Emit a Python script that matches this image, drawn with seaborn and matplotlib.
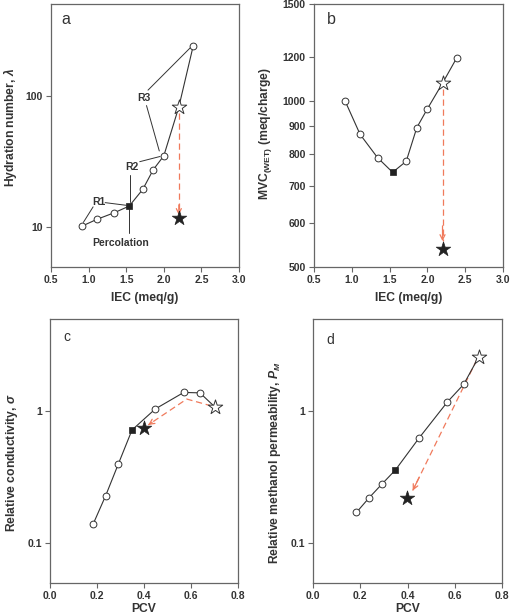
import numpy as np
import pandas as pd
import matplotlib
matplotlib.use("Agg")
import matplotlib.pyplot as plt
from matplotlib.ticker import FixedLocator, FixedFormatter, NullLocator
import seaborn as sns

# ---------------- data ----------------
iec = [0.91, 1.11, 1.34, 1.54, 1.72, 1.86, 2.00, 2.20, 2.39]
iec_kind = ['o', 'o', 'o', 's', 'o', 'o', 'o', '*', 'o']
hydration = [10.2, 11.5, 12.9, 14.5, 19.4, 27.4, 34.9, 82, 237]
mvc = [1000, 869, 789, 742, 777, 894, 967, 1076, 1197]
star_a = (2.20, 11.8)
star_b = (2.20, 540)

pcv = [0.184, 0.237, 0.291, 0.349, 0.448, 0.569, 0.638, 0.702]
pcv_kind = ['o', 'o', 'o', 's', 'o', 'o', 'o', '*']
conductivity = [0.140, 0.229, 0.398, 0.718, 1.035, 1.38, 1.37, 1.07]
permeability = [0.171, 0.220, 0.279, 0.358, 0.621, 1.17, 1.59, 2.57]
star_c = (0.400, 0.748)
star_d = (0.399, 0.219)

# arrows (dashed paths, last point = arrow tip)
arrow_a = ([2.20, 2.20], [74, 12.4])
arrow_b = ([2.20, 2.20], [1051, 557])
arrow_c = ([0.688, 0.582, 0.418], [1.09, 1.23, 0.784])
arrow_d = ([0.693, 0.422], [2.43, 0.25])

# panel a annotations
labels_a = ['R1', 'R2', 'R3', 'Percolation']
label_pos_a = [(1.14, 15.5), (1.57, 28.7), (1.74, 96), (1.42, 7.6)]
leaders_a = [
    ([1.06, 0.93], [14.3, 10.9]),
    ([1.22, 1.50], [15.4, 14.7]),
    ([1.68, 1.95], [31.5, 34.5]),
    ([1.55, 1.55], [25.0, 15.6]),
    ([1.79, 2.35], [110, 230]),
    ([1.77, 1.94], [84, 38]),
    ([1.54, 1.54], [13.8, 9.0]),
]

# ---------------- style ----------------
sns.set_style("ticks")
plt.rcParams['font.family'] = ['Liberation Sans', 'DejaVu Sans']
plt.rcParams['font.weight'] = 'bold'
plt.rcParams['mathtext.fontset'] = 'custom'
plt.rcParams['mathtext.rm'] = 'Liberation Sans:bold'
plt.rcParams['mathtext.bf'] = 'Liberation Sans:bold'
plt.rcParams['mathtext.it'] = 'Liberation Sans:italic:bold'

TXT = '#333333'
LINE = '#333333'
SPINE = '#666666'
ARROW = '#f07a5c'

W, H = 515, 615
fig = plt.figure(figsize=(W / 100, H / 100), dpi=100)


def add_ax(l, r, t, b):
    return fig.add_axes([l / W, 1 - b / H, (r - l) / W, (b - t) / H])


ax_a = add_ax(51, 239, 3.5, 267)
ax_b = add_ax(314, 503, 3.5, 267)
ax_c = add_ax(50, 238, 318.5, 583)
ax_d = add_ax(313, 502, 318.5, 583)


def draw_series(ax, x, y, kind):
    df = pd.DataFrame({'x': x, 'y': y, 'kind': kind})
    sns.lineplot(data=df, x='x', y='y', ax=ax, color=LINE, lw=0.8,
                 sort=False, estimator=None, zorder=2)
    sub = df[df.kind == 'o']
    sns.scatterplot(data=sub, x='x', y='y', ax=ax, marker='o', s=24,
                    facecolor='white', edgecolor=LINE, linewidth=0.7, zorder=3)
    sub = df[df.kind == 's']
    sns.scatterplot(data=sub, x='x', y='y', ax=ax, marker='s', s=16,
                    color='#222222', edgecolor='#222222', linewidth=0.5, zorder=3)
    sub = df[df.kind == '*']
    sns.scatterplot(data=sub, x='x', y='y', ax=ax, marker='*', s=120,
                    facecolor='white', edgecolor=LINE, linewidth=0.7, zorder=4)


def draw_star(ax, pt):
    sns.scatterplot(x=[pt[0]], y=[pt[1]], ax=ax, marker='*', s=120,
                    color='#222222', edgecolor='#222222', linewidth=0.5, zorder=4)


def draw_arrow(ax, path):
    xs, ys = path
    ax.plot(xs, ys, color=ARROW, lw=0.9, dashes=(5, 3), zorder=1)
    x0, x1 = xs[-2], xs[-1]
    y0, y1 = np.log10(ys[-2]), np.log10(ys[-1])
    f = 0.9
    xb = x0 + f * (x1 - x0)
    yb = 10 ** (y0 + f * (y1 - y0))
    ax.annotate('', xy=(xs[-1], ys[-1]), xytext=(xb, yb),
                arrowprops=dict(arrowstyle='->', color=ARROW, lw=0.9,
                                mutation_scale=9, shrinkA=0, shrinkB=0),
                zorder=1)


def style_axes(ax, xticks, xlim, ylim, yticks, ylabels, xlabel, ylabel,
               ylab_pos, letter, letter_size, letter_pos, xlab_y=-0.118):
    ax.set_yscale('log')
    ax.set_xlim(*xlim)
    ax.set_ylim(*ylim)
    ax.xaxis.set_major_locator(FixedLocator(xticks))
    ax.set_xticklabels([f'{v:.1f}' for v in xticks])
    ax.yaxis.set_major_locator(FixedLocator(yticks))
    ax.yaxis.set_major_formatter(FixedFormatter(ylabels))
    ax.yaxis.set_minor_locator(NullLocator())
    ax.xaxis.set_minor_locator(NullLocator())
    ax.tick_params(axis='both', direction='out', length=3.5, width=0.8,
                   color=SPINE, labelsize=7.5, labelcolor=TXT, pad=2.5)
    for lab in ax.get_xticklabels() + ax.get_yticklabels():
        lab.set_fontweight('bold')
    for sp in ax.spines.values():
        sp.set_color(SPINE)
        sp.set_linewidth(0.9)
        sp.set_visible(True)
    ax.set_xlabel(xlabel, fontsize=8.7, fontweight='bold', color=TXT)
    ax.set_ylabel(ylabel, fontsize=8.7, fontweight='bold', color=TXT)
    ax.xaxis.label.set_va('center')
    ax.xaxis.set_label_coords(0.5, xlab_y)
    ax.yaxis.label.set_va('center')
    ax.yaxis.label.set_ha('center')
    ax.yaxis.set_label_coords(*ylab_pos)
    ax.text(letter_pos[0], letter_pos[1], letter, transform=ax.transAxes,
            fontsize=letter_size, fontweight='normal', color=TXT,
            ha='left', va='center')


# ---------------- panel a ----------------
draw_series(ax_a, iec, hydration, iec_kind)
draw_star(ax_a, star_a)
draw_arrow(ax_a, arrow_a)
for xs, ys in leaders_a:
    ax_a.plot(xs, ys, color=LINE, lw=0.7, zorder=1)
for lab, (x, y) in zip(labels_a, label_pos_a):
    ax_a.text(x, y, lab, fontsize=7.5, fontweight='bold', color=TXT,
              ha='center', va='center', zorder=5)
style_axes(ax_a, [0.5, 1.0, 1.5, 2.0, 2.5, 3.0], (0.5, 3.0), (5, 500),
           [10, 100], ['10', '100'], 'IEC (meq/g)',
           r'Hydration number, $\lambda$', (-0.218, 0.53), 'a', 11.5,
           (0.055, 0.94))

# ---------------- panel b ----------------
draw_series(ax_b, iec, mvc, iec_kind)
draw_star(ax_b, star_b)
draw_arrow(ax_b, arrow_b)
b_ticks = [500, 600, 700, 800, 900, 1000, 1200, 1500]
style_axes(ax_b, [0.5, 1.0, 1.5, 2.0, 2.5, 3.0], (0.5, 3.0), (500, 1500),
           b_ticks, [str(v) for v in b_ticks], 'IEC (meq/g)',
           r'MVC$_{\rm (WET)}$ (meq/charge)', (-0.259, 0.505), 'b', 11.5,
           (0.07, 0.94))

# ---------------- panel c ----------------
draw_series(ax_c, pcv, conductivity, pcv_kind)
draw_star(ax_c, star_c)
draw_arrow(ax_c, arrow_c)
style_axes(ax_c, [0.0, 0.2, 0.4, 0.6, 0.8], (0.0, 0.8), (0.05, 5),
           [0.1, 1], ['0.1', '1'], 'PCV',
           r'Relative conductivity, $\sigma$', (-0.202, 0.454), 'c', 10,
           (0.07, 0.93), xlab_y=-0.098)

# ---------------- panel d ----------------
draw_series(ax_d, pcv, permeability, pcv_kind)
draw_star(ax_d, star_d)
draw_arrow(ax_d, arrow_d)
style_axes(ax_d, [0.0, 0.2, 0.4, 0.6, 0.8], (0.0, 0.8), (0.05, 5),
           [0.1, 1], ['0.1', '1'], 'PCV',
           r'Relative methanol permeability, $P_M$', (-0.201, 0.454), 'd', 10,
           (0.07, 0.92), xlab_y=-0.098)

fig.savefig('out.png', dpi=100)
